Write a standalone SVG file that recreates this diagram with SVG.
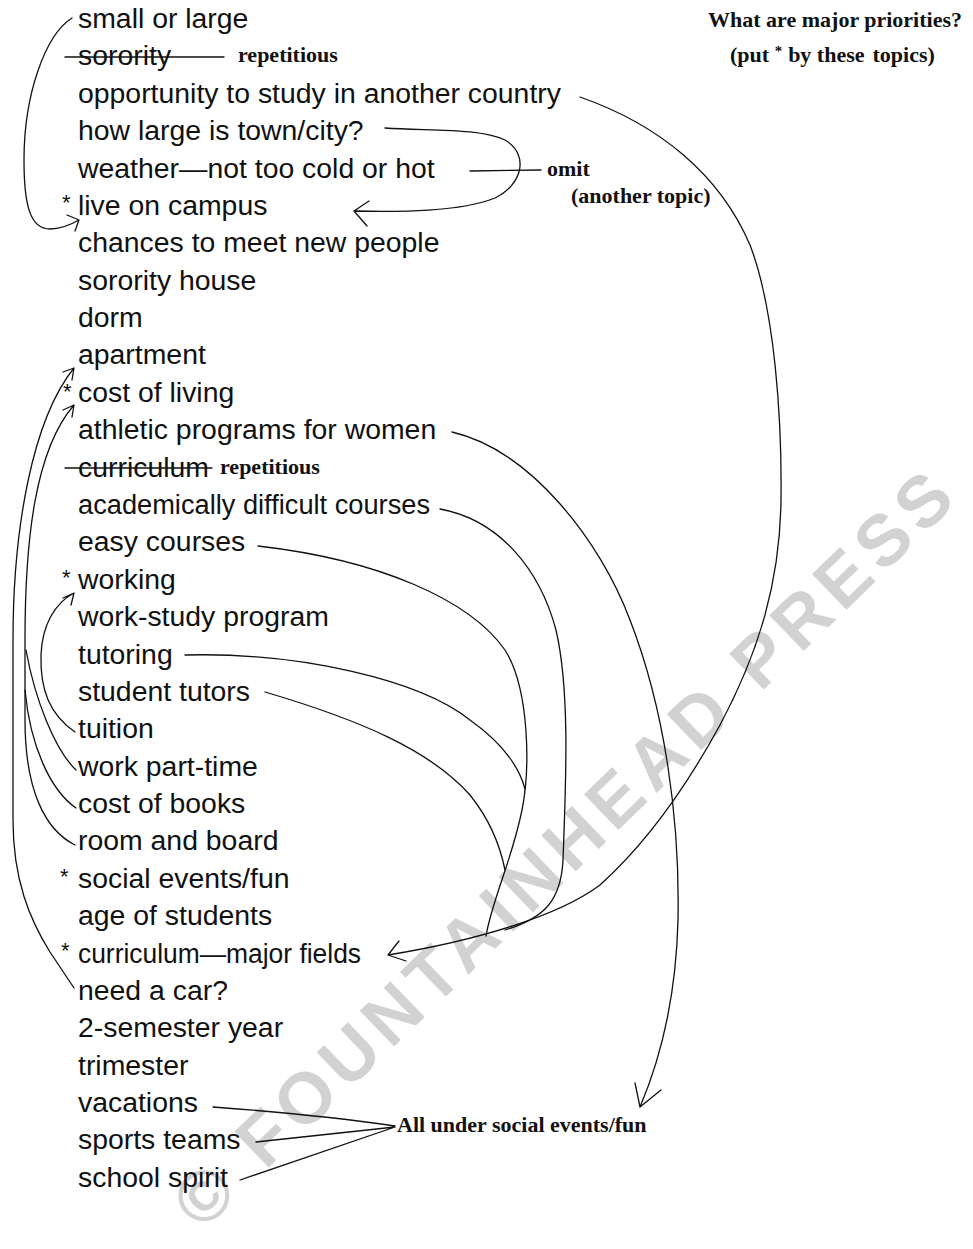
<svg xmlns="http://www.w3.org/2000/svg" width="973" height="1249" viewBox="0 0 973 1249">
<style>
.t{font-family:"Liberation Sans",Arial,sans-serif;font-size:28.4px;fill:#111}
.s{font-family:"Liberation Sans",Arial,sans-serif;font-size:22px;fill:#111}
.l{font-family:"Liberation Serif","Times New Roman",serif;font-weight:bold;font-size:22px;fill:#111}
.c{fill:none;stroke:#111;stroke-width:1.3;stroke-linecap:round;stroke-linejoin:round}
.wm{font-family:"Liberation Sans",Arial,sans-serif;font-weight:bold;font-size:72px;fill:#d2d2d2;letter-spacing:7.5px}
</style>
<rect width="973" height="1249" fill="#fff"/>
<text class="wm" transform="translate(202,1232) rotate(-44)">© FOUNTAINHEAD PRESS</text>

<g id="list">
<g id="n0"><text class="t" x="78" y="28">small or large</text></g>
<g id="n1"><text class="t" x="78" y="65.4">sorority</text><line class="c" x1="65" y1="57" x2="224" y2="57"/><text class="l" x="238" y="62">repetitious</text></g>
<g id="n2"><text class="t" x="78" y="102.8">opportunity to study in another country</text></g>
<g id="n3"><text class="t" x="78" y="140.1">how large is town/city?</text></g>
<g id="n4"><text class="t" x="78" y="177.5">weather—not too cold or hot</text></g>
<g id="n5"><text class="s" x="62" y="210">*</text><text class="t" x="78" y="214.9">live on campus</text></g>
<g id="n6"><text class="t" x="78" y="252.3">chances to meet new people</text></g>
<g id="n7"><text class="t" x="78" y="289.7">sorority house</text></g>
<g id="n8"><text class="t" x="78" y="327">dorm</text></g>
<g id="n9"><text class="t" x="78" y="364.4">apartment</text></g>
<g id="n10"><text class="s" x="63" y="399">*</text><text class="t" x="78" y="401.8">cost of living</text></g>
<g id="n11"><text class="t" x="78" y="439.2">athletic programs for women</text></g>
<g id="n12"><text class="t" x="78" y="476.6">curriculum</text><line class="c" x1="65" y1="468" x2="212" y2="468"/><text class="l" x="220" y="474">repetitious</text></g>
<g id="n13"><text class="t" x="78" y="513.9" textLength="352" lengthAdjust="spacingAndGlyphs">academically difficult courses</text></g>
<g id="n14"><text class="t" x="78" y="551.3">easy courses</text></g>
<g id="n15"><text class="s" x="62" y="585">*</text><text class="t" x="78" y="588.7">working</text></g>
<g id="n16"><text class="t" x="78" y="626.1">work-study program</text></g>
<g id="n17"><text class="t" x="78" y="663.5">tutoring</text></g>
<g id="n18"><text class="t" x="78" y="700.8">student tutors</text></g>
<g id="n19"><text class="t" x="78" y="738.2">tuition</text></g>
<g id="n20"><text class="t" x="78" y="775.6">work part-time</text></g>
<g id="n21"><text class="t" x="78" y="813">cost of books</text></g>
<g id="n22"><text class="t" x="78" y="850.4">room and board</text></g>
<g id="n23"><text class="s" x="60" y="884">*</text><text class="t" x="78" y="887.7">social events/fun</text></g>
<g id="n24"><text class="t" x="78" y="925.1">age of students</text></g>
<g id="n25"><text class="s" x="61" y="958">*</text><text class="t" x="78" y="962.5" textLength="283" lengthAdjust="spacingAndGlyphs">curriculum—major fields</text></g>
<g id="n26"><text class="t" x="78" y="999.9">need a car?</text></g>
<g id="n27"><text class="t" x="78" y="1037.3">2-semester year</text></g>
<g id="n28"><text class="t" x="78" y="1074.6">trimester</text></g>
<g id="n29"><text class="t" x="78" y="1112">vacations</text></g>
<g id="n30"><text class="t" x="78" y="1149.4">sports teams</text></g>
<g id="n31"><text class="t" x="78" y="1186.8">school spirit</text></g>
</g>

<g id="title"><text class="l" x="962" y="27" font-size="18" text-anchor="end">What are major priorities?</text>
<text class="l" x="730" y="62" font-size="20">(put <tspan font-size="15" dy="-6">*</tspan><tspan dy="6" dx="6">by these</tspan><tspan dx="8">topics)</tspan></text></g>
<g id="omit"><text class="l" x="547" y="176">omit</text><text class="l" x="571" y="203">(another topic)</text></g>
<g id="social"><text class="l" x="397" y="1132">All under social events/fun</text></g>

<g id="connectors">
<path class="c" d="M72,18 C45,35 24,95 24,160 C24,205 30,229 50,229 C62,229 72,224 79,220 M67,215 L79,220 L75,231"/>
<path class="c" d="M385,128 C430,131 480,128 505,140 C530,155 522,185 495,198 C460,212 400,212 354,211 M369,201 L354,211 L367,226"/>
<path class="c" d="M470,171 L541,170"/>
<path class="c" d="M580,97 C660,125 720,175 750,245 C775,310 782,420 781,500 C780,580 760,650 720,725 C690,780 650,840 600,885 C560,915 480,940 388,955 M399,941 L388,955 L406,961"/>
<path class="c" d="M452,432 C530,450 600,540 630,620 C665,710 680,820 678,920 C676,1000 660,1060 640,1107 M635,1083 L640,1107 L661,1090"/>
<path class="c" d="M440,509 C500,520 540,570 556,630 C570,690 566,780 563,860 C561,900 545,918 505,930"/>
<path class="c" d="M258,546 C380,560 470,600 505,650 C530,690 530,770 522,810 C512,860 492,900 486,936"/>
<path class="c" d="M185,655 C300,652 420,680 470,720 C505,745 520,770 525,789"/>
<path class="c" d="M265,692 C360,720 430,750 470,795 C490,820 500,845 505,870"/>
<path class="c" d="M74,988 L50,952 C30,920 13,880 13,820 L13,640 C13,530 32,420 74,368 M63,372 L74,368 L72,380"/>
<path class="c" d="M75,845 C45,830 25,790 25,720 L25,640 C25,540 35,450 74,405 M63,410 L74,405 L72,417"/>
<path class="c" d="M26,650 C35,700 55,750 76,770"/>
<path class="c" d="M25,690 C30,745 50,790 76,808"/>
<path class="c" d="M75,732 C50,715 40,690 41,655 C42,625 55,603 74,593 M63,598 L74,593 L71,605"/>
<path class="c" d="M213,1107 C280,1112 340,1118 395,1126 M256,1142 L395,1127 M240,1180 L395,1127"/>
</g>
</svg>
